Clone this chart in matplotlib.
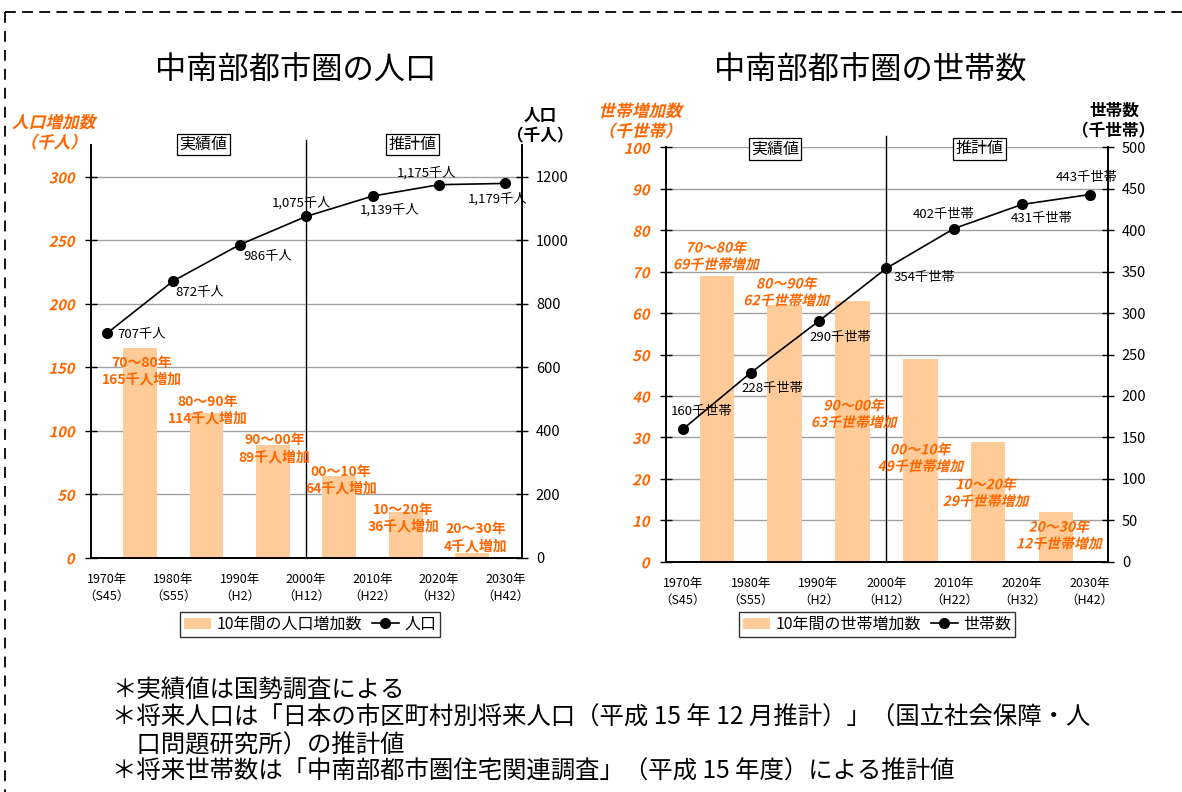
import matplotlib
matplotlib.use("Agg")
import matplotlib.pyplot as plt
from matplotlib.patheffects import AbstractPathEffect
from matplotlib.transforms import Affine2D
from matplotlib.lines import Line2D
from matplotlib.patches import Patch

plt.rcParams['font.family'] = ['Noto Sans CJK JP', 'DejaVu Sans']

# ---------------- data ----------------
years = ["1970年\n（S45）", "1980年\n（S55）", "1990年\n（H2）", "2000年\n（H12）",
         "2010年\n（H22）", "2020年\n（H32）", "2030年\n（H42）"]
pop = [707, 872, 986, 1075, 1139, 1175, 1179]
pop_labels = ["707千人", "872千人", "986千人", "1,075千人", "1,139千人", "1,175千人", "1,179千人"]
pop_inc = [165, 114, 89, 64, 36, 4]
pop_inc_labels = ["70～80年\n165千人増加", "80～90年\n114千人増加", "90～00年\n89千人増加",
                  "00～10年\n64千人増加", "10～20年\n36千人増加", "20～30年\n4千人増加"]

hh = [160, 228, 290, 354, 402, 431, 443]
hh_labels = ["160千世帯", "228千世帯", "290千世帯", "354千世帯", "402千世帯", "431千世帯", "443千世帯"]
hh_inc = [69, 62, 63, 49, 29, 12]
hh_inc_labels = ["70～80年\n69千世帯増加", "80～90年\n62千世帯増加", "90～00年\n63千世帯増加",
                 "00～10年\n49千世帯増加", "10～20年\n29千世帯増加", "20～30年\n12千世帯増加"]

footnotes = ["＊実績値は国勢調査による",
             "＊将来人口は「日本の市区町村別将来人口（平成 15 年 12 月推計）」（国立社会保障・人",
             "　口問題研究所）の推計値",
             "＊将来世帯数は「中南部都市圏住宅関連調査」（平成 15 年度）による推計値"]

ORANGE = "#FF6600"
BAR = "#FFCC99"
GRID = "#A0A0A0"
W, H = 1182, 792
PX = 0.72  # points per pixel


class Oblique(AbstractPathEffect):
    def __init__(self, deg=13):
        super().__init__()
        self.deg = deg

    def draw_path(self, renderer, gc, tpath, affine, rgbFace=None):
        renderer.draw_path(gc, tpath, Affine2D().skew_deg(self.deg, 0) + affine, rgbFace)


OBL = [Oblique(13)]

fig = plt.figure(figsize=(W / 100, H / 100), dpi=100)


def setup(ax, ax_r, ylim, ylim_r, yticks, yticks_r, xlim):
    ax.set_xlim(*xlim)
    ax.set_ylim(*ylim)
    ax_r.set_ylim(*ylim_r)
    ax.set_yticks(yticks)
    ax_r.set_yticks(yticks_r)
    ax.set_xticks(range(len(years)))
    ax.set_xticklabels(years, fontsize=9, linespacing=1.35)
    ax.tick_params(axis='x', length=0, pad=11)
    ax.tick_params(axis='y', direction='inout', length=8, width=1, pad=8,
                   labelsize=10.5, labelcolor=ORANGE)
    ax_r.tick_params(axis='y', direction='inout', length=8, width=1, pad=6,
                     labelsize=10.5, labelcolor='black')
    for lab in ax.get_yticklabels():
        lab.set_fontweight('bold')
        lab.set_path_effects(OBL)
    for a in (ax, ax_r):
        a.spines['top'].set_visible(False)
        for s in ('left', 'right', 'bottom'):
            a.spines[s].set_linewidth(1.2)
    ax.grid(axis='y', color=GRID, linewidth=1)
    ax.set_axisbelow(True)
    ax_r.set_zorder(ax.get_zorder() + 1)
    ax_r.patch.set_visible(False)


def draw_line(ax_r, vals, labels, offsets, ha_list):
    x = list(range(len(vals)))
    ax_r.plot(x, vals, color='black', linewidth=1.2, marker='o', markersize=7, zorder=5)
    for i, (v, lab) in enumerate(zip(vals, labels)):
        dx, dy = offsets[i]
        ax_r.annotate(lab, (i, v), xytext=(dx * PX, dy * PX), textcoords='offset points',
                      ha=ha_list[i], va='center', fontsize=9.5, color='black', zorder=6)


def draw_bars(ax, vals, labels, offsets, italic):
    xb = [i + 0.5 for i in range(len(vals))]
    ax.bar(xb, vals, width=0.51, color=BAR, zorder=2)
    for i, (v, lab) in enumerate(zip(vals, labels)):
        dx, dy = offsets[i]
        t = ax.annotate(lab, (xb[i], v), xytext=(dx * PX, dy * PX), textcoords='offset points',
                        ha='center', va='center', fontsize=10, fontweight='bold',
                        color=ORANGE, linespacing=1.25, zorder=7, annotation_clip=False)
        if italic:
            t.set_path_effects(OBL)


def phase_boxes(ax, x1, x2, yfrac):
    tr = ax.get_xaxis_transform()
    for x, s in ((x1, "実績値"), (x2, "推計値")):
        ax.text(x, yfrac, s, transform=tr, ha='center', va='center', fontsize=11.5,
                bbox=dict(boxstyle='square,pad=0.15', facecolor='white', edgecolor='black',
                          linewidth=0.9), zorder=8, clip_on=False)


# ---------------- left chart ----------------
ax1 = fig.add_axes([91 / W, 1 - 557.7 / H, (522 - 91) / W, (557.7 - 145) / H])
ax1r = ax1.twinx()
setup(ax1, ax1r, (0, 325), (0, 1300), range(0, 301, 50), range(0, 1201, 200), (-0.24, 6.25))
draw_bars(ax1, pop_inc, pop_inc_labels,
          [(1.5, -23), (1, 3), (1.7, -4), (1.5, -4), (-2.4, -6), (3.6, 15)], italic=False)
draw_line(ax1r, pop, pop_labels,
          [(10, -1), (26, -12), (28, -12), (-5, 13), (17, -14), (-12, 12), (-8, -16)],
          ['left', 'center', 'center', 'center', 'center', 'center', 'center'])
ax1.axvline(3, 0, 1.012, color='black', linewidth=1, clip_on=False, zorder=3)
phase_boxes(ax1, 1.45, 4.6, 1.001)

# ---------------- right chart ----------------
ax2 = fig.add_axes([666 / W, 1 - 561.7 / H, (1108 - 666) / W, (561.7 - 147.3) / H])
ax2r = ax2.twinx()
setup(ax2, ax2r, (0, 100), (0, 500), range(0, 101, 10), range(0, 501, 50), (-0.25, 6.27))
draw_bars(ax2, hh_inc, hh_inc_labels,
          [(-1, 19), (1.6, 12), (1.2, -114), (0, -100), (-2.5, -52), (3, -24)], italic=True)
draw_line(ax2r, hh, hh_labels,
          [(19, 18), (22, -16), (22, -16), (7, -9), (-10, 14), (20, -14), (-3, 17)],
          ['center', 'center', 'center', 'left', 'center', 'center', 'center'])
ax2.axvline(3, 0, 1.027, color='black', linewidth=1, clip_on=False, zorder=3)
phase_boxes(ax2, 1.357, 4.38, 0.996)

# ---------------- axis titles ----------------
t = fig.text(53.5 / W, 1 - 133 / H, "人口増加数\n（千人）", ha='center', va='center', fontsize=12,
             fontweight='bold', color=ORANGE, linespacing=1.15)
t.set_path_effects(OBL)
fig.text(540 / W, 1 - 126 / H, "人口\n（千人）", ha='center', va='center', fontsize=12,
         fontweight='bold', color='black', linespacing=1.15)
t = fig.text(640 / W, 1 - 121.7 / H, "世帯増加数\n（千世帯）", ha='center', va='center', fontsize=12,
             fontweight='bold', color=ORANGE, linespacing=1.15)
t.set_path_effects(OBL)
fig.text(1114 / W, 1 - 121 / H, "世帯数\n（千世帯）", ha='center', va='center', fontsize=12,
         fontweight='bold', color='black', linespacing=1.15)

fig.text(296 / W, 1 - 70 / H, "中南部都市圏の人口", ha='center', va='center', fontsize=22.5)
fig.text(870 / W, 1 - 70 / H, "中南部都市圏の世帯数", ha='center', va='center', fontsize=22.5)

# ---------------- legends ----------------
for ax, cx, lab_bar, lab_line in ((ax1, 310, "10年間の人口増加数", "人口"),
                                  (ax2, 877, "10年間の世帯増加数", "世帯数")):
    handles = [Patch(facecolor=BAR, edgecolor='none'),
               Line2D([], [], color='black', linewidth=1.2, marker='o', markersize=7)]
    leg = ax.legend(handles, [lab_bar, lab_line], loc='center', ncol=2,
                    bbox_to_anchor=(cx / W, 1 - 624.5 / H), bbox_transform=fig.transFigure,
                    fontsize=11.5, frameon=True, fancybox=False, edgecolor='black',
                    handlelength=1.7, handletextpad=0.35, columnspacing=0.6,
                    borderpad=0.25, borderaxespad=0)
    leg.get_frame().set_linewidth(1.0)

# ---------------- footnotes ----------------
for yy, s in zip([690, 718, 745, 772], footnotes):
    fig.text(112 / W, 1 - yy / H, s, ha='left', va='center', fontsize=17.6)

# ---------------- dashed border ----------------
ytop = 1 - 11.7 / H
fig.add_artist(Line2D([5 / W, 1], [ytop, ytop], transform=fig.transFigure, color='black',
                      linewidth=1.3, linestyle=(0, (6, 3.5))))
fig.add_artist(Line2D([5 / W, 5 / W], [ytop, 0], transform=fig.transFigure, color='black',
                      linewidth=1.3, linestyle=(0, (6, 4.5))))

fig.savefig("out.png", dpi=100)
